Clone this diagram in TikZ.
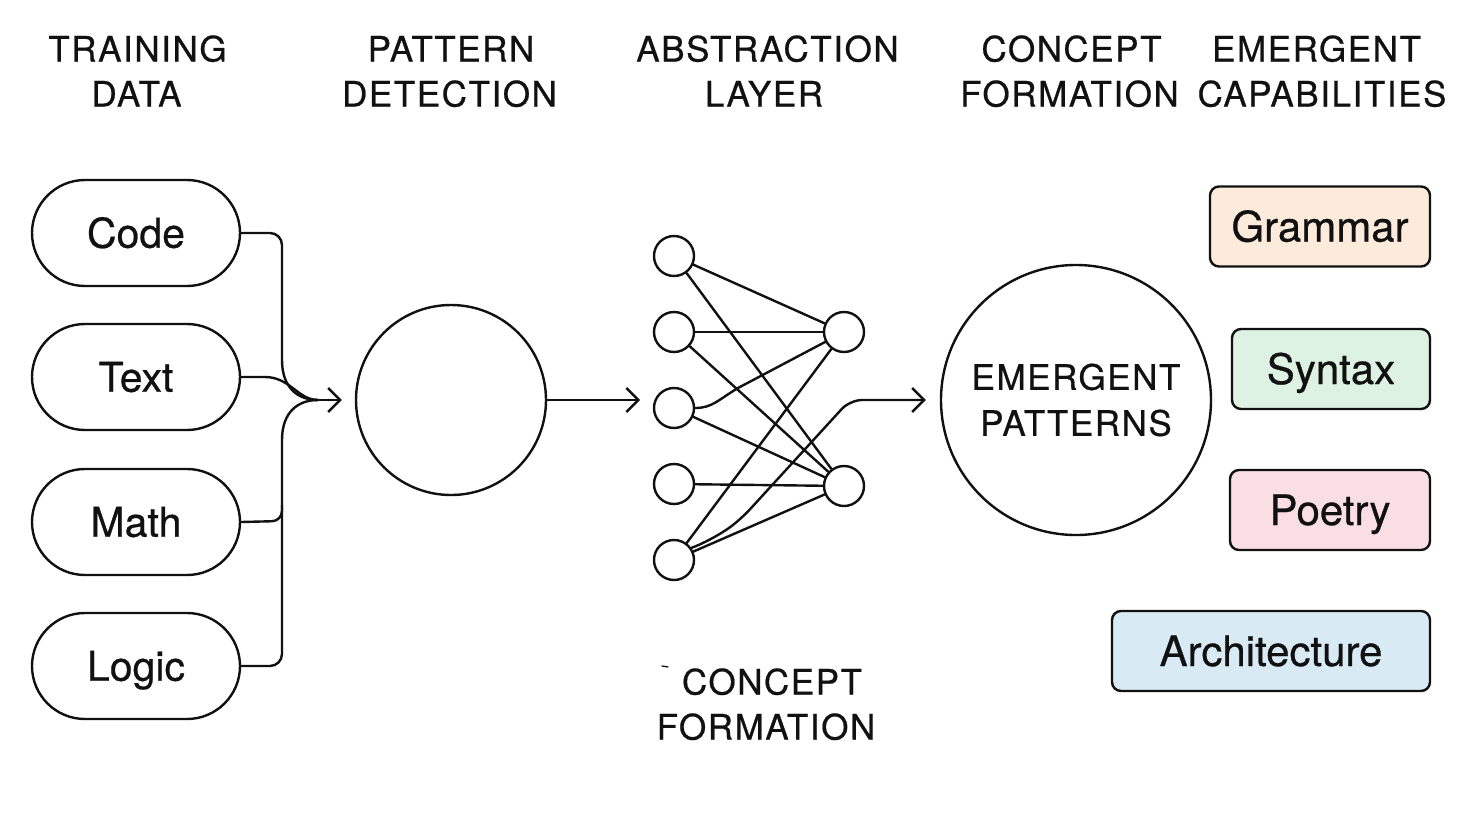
\documentclass[tikz,border=0pt]{standalone}
\usepackage{fontspec}
\setmainfont{TeX Gyre Heros}[FakeBold=0.6]
\newfontfamily\hdfont[LetterSpace=4.5,FakeBold=0.6]{TeX Gyre Heros}
\usetikzlibrary{arrows.meta,calc}
\definecolor{ink}{HTML}{111111}
\definecolor{peach}{HTML}{FCEADB}
\definecolor{mint}{HTML}{DDF2E3}
\definecolor{rose}{HTML}{F9DEE3}
\definecolor{sky}{HTML}{D8EAF4}
\tikzset{
  hdr/.style={font=\hdfont\fontsize{35}{42}\selectfont, anchor=base, text=ink, inner sep=0pt},
  pill/.style={draw=ink, rounded corners=53pt, minimum width=208pt, minimum height=106pt,
    font=\fontsize{41}{48}\selectfont, text height=29.4pt, text depth=0pt, inner sep=0pt, text=ink},
  capbox/.style={draw=ink, rounded corners=9pt, minimum height=80pt,
    font=\fontsize{42}{50}\selectfont, text height=30pt, text depth=0pt, inner sep=0pt, text=ink},
  neuron/.style={circle, draw=ink, minimum size=40pt, inner sep=0pt},
  conn/.style={draw=ink, line width=2.4pt},
  arr/.style={conn, -{Straight Barb[length=12pt,width=24pt,line width=2.4pt]}},
}
\begin{document}
\begin{tikzpicture}[x=1pt,y=-1pt, line width=2.4pt, line cap=round, line join=round]
\useasboundingbox (0,0) rectangle (1462,817);
\fill[white] (0,0) rectangle (1462,817);

% headers
\node[hdr] (h1a) at (137.5,61.5) {TRAINING};
\node[hdr] (h1b) at (136.5,106.5) {DATA};
\node[hdr] (h2a) at (451,61.5) {PATTERN};
\node[hdr] (h2b) at (449.5,106.5) {DETECTION};
\node[hdr] (h3a) at (767.5,61.5) {ABSTRACTION};
\node[hdr] (h3b) at (764,106.5) {LAYER};
\node[hdr] (h4a) at (1071.5,61.5) {CONCEPT};
\node[hdr] (h4b) at (1069.5,106.5) {FORMATION};
\node[hdr] (h5a) at (1316.5,61.5) {EMERGENT};
\node[hdr] (h5b) at (1322,106.5) {CAPABILITIES};

% bottom label
\node[hdr] (b1) at (772,694.5) {CONCEPT};
\node[hdr] (b2) at (766,739.5) {FORMATION};
\draw[line width=1.2pt] (662,666) -- (668,667);

% training data pills
\node[pill] (code) at (136,233) {Code};
\node[pill] (text) at (136,377) {Text};
\node[pill] (math) at (136,522) {Math};
\node[pill] (logic) at (136,666) {Logic};

\coordinate (m) at (318,400);
\draw[conn, rounded corners=12pt] (code.east) -- (282,233) -- (282,360);
\draw[conn] (282,360) .. controls (282,388) and (298,400) .. (m);
\draw[conn] (text.east) -- (265,377) .. controls (290,377) and (298,400) .. (m);
\draw[conn, rounded corners=12pt] (logic.east) -- (282,666) -- (282,440);
\draw[conn] (282,440) .. controls (282,412) and (298,400) .. (m);
\draw[conn, rounded corners=10pt] (math.east) -- (282,521) -- (282,505);

% pattern detection
\node[circle, draw=ink, minimum size=190pt, inner sep=0pt] (pd) at (451,400) {};
\draw[arr, shorten >=13pt] (m) -- (pd);

\coordinate (a3) at (640,400);
\draw[arr] (pd.east) -- (a3);

% network
\node[neuron] (n1) at (674,256) {};
\node[neuron] (n2) at (674,332) {};
\node[neuron] (n3) at (674,408) {};
\node[neuron] (n4) at (674,484) {};
\node[neuron] (n5) at (674,560) {};
\node[neuron] (r1) at (844,332) {};
\node[neuron] (r2) at (844,486) {};

\draw[conn] (n1) -- (r1);
\draw[conn] (n1) -- (r2);
\draw[conn] (n2) -- (r1);
\draw[conn] (n2) -- (r2);
\draw[conn] (n3.east) .. controls (712,408) and (718,400) .. (738,388) -- (r1);
\draw[conn] (n3) -- (r2);
\draw[conn] (n4) -- (r2);
\draw[conn] (n5) -- (r1);
\draw[conn] (n5) -- (r2);

% emergent patterns
\node[circle, draw=ink, minimum size=270pt, inner sep=0pt, align=center, text=ink,
  font=\hdfont\fontsize{35}{46}\selectfont] (ep) at (1076,400) {EMERGENT\\PATTERNS};
\draw[arr, rounded corners=12pt, shorten >=14pt] (n5.35) .. controls (700,545) and (720,535) .. (742,518) -- (850,400) -- (ep);

% capabilities
\node[capbox, fill=peach, minimum width=220pt] (gram) at (1320,226.5) {Grammar};
\node[capbox, fill=mint, minimum width=198pt] (syn) at (1331,369) {Syntax};
\node[capbox, fill=rose, minimum width=200pt] (poe) at (1330,510) {Poetry};
\node[capbox, fill=sky, minimum width=318pt] (arch) at (1271,651) {Architecture};
\end{tikzpicture}
\end{document}
